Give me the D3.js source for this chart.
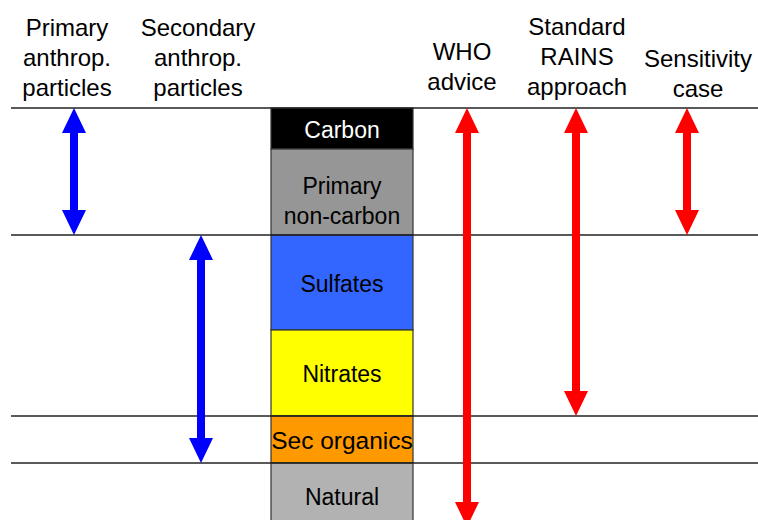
<!DOCTYPE html>
<html>
<head>
<meta charset="utf-8">
<script src="https://cdn.jsdelivr.net/npm/d3@7"></script>
<style>
  body { margin: 0; background: #fff; }
  text { font-family: Arial, "Liberation Sans", sans-serif; }
</style>
</head>
<body>
<div id="chart"></div>
<script>
// stacked components (heights in arbitrary units)
var segNames = ["Carbon", "Primary\nnon-carbon", "Sulfates", "Nitrates", "Sec organics", "Natural"];
var segValues = [41, 86, 95, 86, 47, 70];
var segColors = ["#000000", "#969696", "#3366ff", "#ffff00", "#ff9900", "#b2b2b2"];
var segText = ["#ffffff", "#000000", "#000000", "#000000", "#000000", "#000000"];

// arrows: header label, start and end on the stack (units), colour
var arrowNames = ["Primary\nanthrop.\nparticles", "Secondary\nanthrop.\nparticles", "WHO\nadvice", "Standard\nRAINS\napproach", "Sensitivity\ncase"];
var arrowFrom = [0, 127, 0, 0, 0];
var arrowTo = [127, 355, 419, 308, 127];
var arrowColors = ["#0000ff", "#0000ff", "#ff0000", "#ff0000", "#ff0000"];

// horizontal guide lines at these stack levels
var guideLevels = [0, 127, 308, 355];

var width = 758, height = 520;
var arrowX = [74, 201, 467, 576, 687];
var headerX = [67, 198, 462, 577, 698];
var headerLast = [96, 96, 90, 95, 97];

var svg = d3.select("#chart").append("svg")
    .attr("width", width)
    .attr("height", height);

var y = d3.scaleLinear()
    .domain([0, 419])
    .range([108, 527]);

var cum = [0];
segValues.forEach(function(v, i) { cum.push(cum[i] + v); });

// bar segments
var bar = svg.append("g");
bar.selectAll("rect")
    .data(segValues)
  .enter().append("rect")
    .attr("x", 271)
    .attr("width", 142)
    .attr("y", function(d, i) { return y(cum[i]); })
    .attr("height", function(d, i) { return y(cum[i] + d) - y(cum[i]); })
    .attr("fill", function(d, i) { return segColors[i]; })
    .attr("stroke", "#333")
    .attr("stroke-width", 1.2);

bar.selectAll("text")
    .data(segNames)
  .enter().append("text")
    .attr("x", 342)
    .attr("y", function(d, i) {
      var bottom = Math.min(y(cum[i + 1]), height + 8);
      var mid = (y(cum[i]) + bottom) / 2;
      var n = d.split("\n").length;
      return mid - (n - 1) * 7 + 9;
    })
    .attr("text-anchor", "middle")
    .attr("fill", function(d, i) { return segText[i]; })
    .style("font-size", function(d) { return d == "Sec organics" ? "24.5px" : "23px"; })
    .each(function(d) {
      var t = d3.select(this), x0 = t.attr("x");
      d.split("\n").forEach(function(s, k) {
        t.append("tspan").attr("x", x0).attr("dy", k ? 30 : 0).text(s);
      });
    });

// guide lines
svg.selectAll(".guide")
    .data(guideLevels)
  .enter().append("line")
    .attr("class", "guide")
    .attr("x1", 11)
    .attr("x2", width)
    .attr("y1", function(d) { return y(d); })
    .attr("y2", function(d) { return y(d); })
    .attr("stroke", "#222")
    .attr("stroke-width", 1.3);

// double-headed arrows
function arrowPath(cx, y0, y1) {
  var sw = 4, hw = 12, hl = 25;
  return "M" + cx + "," + y0 +
    "L" + (cx + hw) + "," + (y0 + hl) +
    "L" + (cx + sw) + "," + (y0 + hl) +
    "L" + (cx + sw) + "," + (y1 - hl) +
    "L" + (cx + hw) + "," + (y1 - hl) +
    "L" + cx + "," + y1 +
    "L" + (cx - hw) + "," + (y1 - hl) +
    "L" + (cx - sw) + "," + (y1 - hl) +
    "L" + (cx - sw) + "," + (y0 + hl) +
    "L" + (cx - hw) + "," + (y0 + hl) + "Z";
}

svg.selectAll(".arrow")
    .data(arrowNames)
  .enter().append("path")
    .attr("class", "arrow")
    .attr("d", function(d, i) { return arrowPath(arrowX[i], y(arrowFrom[i]), y(arrowTo[i])); })
    .attr("fill", function(d, i) { return arrowColors[i]; });

// column headers
svg.selectAll(".header")
    .data(arrowNames)
  .enter().append("text")
    .attr("class", "header")
    .attr("x", function(d, i) { return headerX[i]; })
    .attr("y", function(d, i) { return headerLast[i] - (d.split("\n").length - 1) * 30; })
    .attr("text-anchor", "middle")
    .style("font-size", "24px")
    .attr("fill", "#000")
    .each(function(d) {
      var t = d3.select(this), x0 = t.attr("x");
      d.split("\n").forEach(function(s, k) {
        t.append("tspan").attr("x", x0).attr("dy", k ? 30 : 0).text(s);
      });
    });
</script>
</body>
</html>
